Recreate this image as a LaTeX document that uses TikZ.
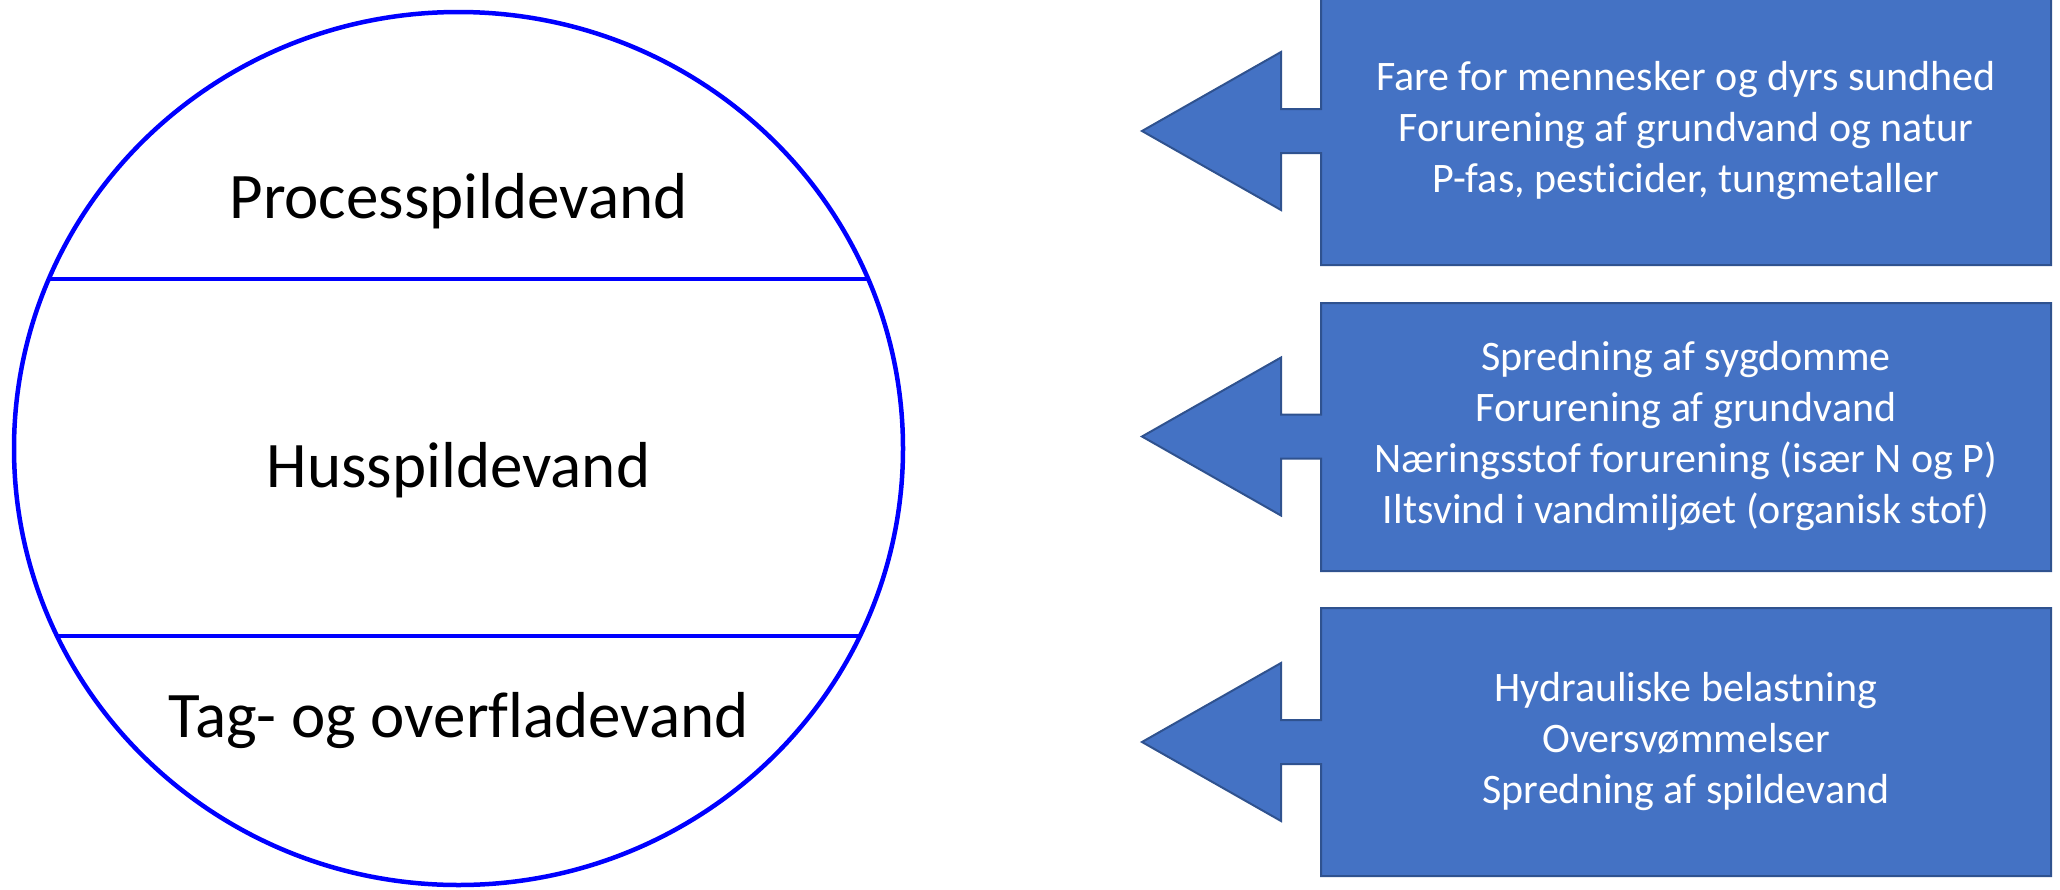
\documentclass[tikz,border=0pt]{standalone}
\usepackage{fontspec}
\setmainfont[Ligatures={NoCommon}]{Carlito}
\definecolor{ringblue}{RGB}{0,0,255}
\definecolor{boxfill}{HTML}{4472C4}
\definecolor{boxline}{HTML}{2F528F}
\begin{document}
\begin{tikzpicture}[x=1pt,y=-1pt,
  ring/.style={draw=ringblue,line width=4.5pt},
  zonelabel/.style={anchor=base,inner sep=0pt,font=\fontsize{65}{78}\selectfont},
  callout/.style={fill=boxfill,draw=boxline,line width=2pt,line join=miter},
  effects/.style={align=center,text=white,inner sep=0pt,font=\fontsize{42}{51}\selectfont}]
\useasboundingbox (0,0) rectangle (2060,889);

% wastewater ring with its three zones
\coordinate (c) at (458.5,448.5);
\draw[ring] (c) ellipse [x radius=444.5, y radius=436.5];
\coordinate (t1) at (49.3,279);
\coordinate (t2) at (867.7,279);
\coordinate (b1) at (57.2,636);
\coordinate (b2) at (859.8,636);
\draw[ring] (t1) -- (t2);
\draw[ring] (b1) -- (b2);

\node[zonelabel] (proc) at (458.5,218) {Processpildevand};
\node[zonelabel] (hus)  at (458.5,487) {Husspildevand};
\node[zonelabel] (tag)  at (458.5,737) {Tag- og overfladevand};

% left-pointing callouts: box x 1321..2051, shaft to x 1281, tip at x 1142
\newcommand{\leftcallout}[3]{%
  \draw[callout] (1321,#1) -- (2051,#1) -- (2051,#2) -- (1321,#2)
    -- (1321,#3+22) -- (1281,#3+22) -- (1281,#3+79) -- (1142,#3)
    -- (1281,#3-79) -- (1281,#3-22) -- (1321,#3-22) -- cycle;}
\leftcallout{-4}{265}{131}
\leftcallout{303}{571}{436.5}
\leftcallout{608}{876}{742}

\node[effects] (e1) at (1686,131) {Fare for mennesker og dyrs sundhed\\Forurening af grundvand og natur\\P-fas, pesticider, tungmetaller};
\node[effects] (e2) at (1686,436.5) {Spredning af sygdomme\\Forurening af grundvand\\Næringsstof forurening (især N og P)\\Iltsvind i vandmiljøet (organisk stof)};
\node[effects] (e3) at (1686,742) {Hydrauliske belastning\\Oversvømmelser\\Spredning af spildevand};
\end{tikzpicture}
\end{document}
